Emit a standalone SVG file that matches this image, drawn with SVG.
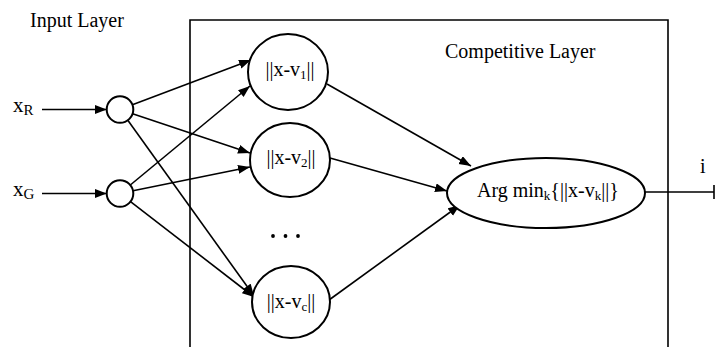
<svg xmlns="http://www.w3.org/2000/svg" width="715" height="347" viewBox="0 0 715 347">
<defs>
<marker id="arr" markerUnits="userSpaceOnUse" markerWidth="13" markerHeight="10" refX="12" refY="4.5" orient="auto">
<path d="M0,0 L12,4.5 L0,9 z" fill="#000"/>
</marker>
<style>
text{font-family:"Liberation Serif","Times New Roman",serif;fill:#000}
.lbl{font-size:20px}
.sub{font-size:13px}
.node{fill:#fff;stroke:#000;stroke-width:2}
.conn line{stroke:#000;stroke-width:1.6;marker-end:url(#arr)}
.mid{text-anchor:middle}
</style>
</defs>
<rect width="715" height="347" fill="#fff"/>

<g id="competitive-box">
<path d="M190,347 V20 H668 V347" fill="none" stroke="#000" stroke-width="1.6"/>
<text class="lbl" x="445" y="58">Competitive Layer</text>
</g>
<text class="lbl" x="30" y="27">Input Layer</text>

<g class="conn" id="connectors">
<line x1="42" y1="109.5" x2="106.7" y2="109.5"/>
<line x1="42" y1="193.5" x2="106.7" y2="193.5"/>
<line x1="132.4" y1="104.8" x2="251" y2="60"/>
<line x1="132.6" y1="113.7" x2="250" y2="153"/>
<line x1="127.8" y1="120.3" x2="254" y2="296"/>
<line x1="130.3" y1="185" x2="250" y2="86"/>
<line x1="133" y1="190.8" x2="250" y2="167"/>
<line x1="130.5" y1="201.6" x2="254" y2="297"/>
<line x1="327" y1="84" x2="471" y2="166"/>
<line x1="330" y1="158" x2="447" y2="191"/>
<line x1="329" y1="300" x2="460" y2="205"/>
<path d="M645,192 H714 M714,185 V199" fill="none" stroke="#000" stroke-width="1.6"/>
</g>

<g id="input-R">
<circle class="node" cx="120" cy="109.5" r="13.3"/>
<text x="13" y="112" style="font-size:21px">x<tspan class="sub" style="font-size:15px" dy="3">R</tspan></text>
</g>
<g id="input-G">
<circle class="node" cx="120" cy="193.5" r="13.3"/>
<text x="13" y="196" style="font-size:21px">x<tspan class="sub" style="font-size:15px" dy="3">G</tspan></text>
</g>

<g id="node-1">
<ellipse class="node" cx="288" cy="72" rx="40" ry="38"/>
<text class="lbl mid" x="290" y="76">||x-v<tspan class="sub" dy="3">1</tspan><tspan dy="-3">||</tspan></text>
</g>
<g id="node-2">
<ellipse class="node" cx="290" cy="160" rx="40" ry="37"/>
<text class="lbl mid" x="291" y="164">||x-v<tspan class="sub" dy="3">2</tspan><tspan dy="-3">||</tspan></text>
</g>
<g id="dots">
<circle cx="273" cy="236" r="1.9" fill="#000"/>
<circle cx="285.5" cy="236" r="1.9" fill="#000"/>
<circle cx="298" cy="236" r="1.9" fill="#000"/>
</g>
<g id="node-c">
<ellipse class="node" cx="291" cy="302" rx="39" ry="36"/>
<text class="lbl mid" x="291" y="308">||x-v<tspan class="sub" dy="3">c</tspan><tspan dy="-3">||</tspan></text>
</g>

<g id="argmin">
<ellipse class="node" cx="546" cy="193" rx="99" ry="35"/>
<text class="lbl" x="477" y="197">Arg min<tspan class="sub" dy="3">k</tspan><tspan dy="-3">{||x-v</tspan><tspan class="sub" dy="3">k</tspan><tspan dy="-3">||}</tspan></text>
</g>

<text class="lbl" x="700" y="173">i</text>
</svg>
